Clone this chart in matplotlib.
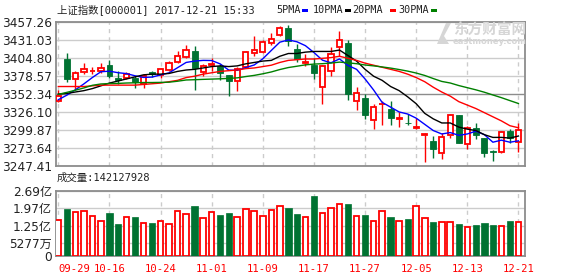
import matplotlib
matplotlib.use('Agg')
import matplotlib.pyplot as plt
import numpy as np

plt.rcParams['font.family'] = ['DejaVu Sans', 'Noto Sans CJK SC']

opens = [3341.5, 3403.5, 3374.5, 3383.4, 3385.0, 3385.9, 3394.1, 3375.0, 3375.2, 3375.2,
         3366.2, 3383.5, 3379.5, 3386.8, 3398.0, 3406.3, 3414.0, 3383.4, 3394.0, 3392.6,
         3379.5, 3371.3, 3391.7, 3411.1, 3412.6, 3425.7, 3437.8, 3447.5, 3417.4, 3396.6,
         3394.1, 3363.0, 3384.9, 3419.9, 3426.2, 3342.1, 3347.0, 3314.0, 3337.0, 3330.0,
         3316.4, 3310.5, 3302.8, 3292.1, 3283.4, 3266.7, 3292.1, 3321.3, 3280.0, 3303.3,
         3287.6, 3269.5, 3267.7, 3297.8, 3282.7]
highs = [3358.0, 3411.5, 3386.0, 3397.0, 3391.7, 3397.0, 3400.9, 3385.0, 3384.3, 3378.6,
         3380.5, 3386.0, 3390.2, 3399.9, 3415.0, 3423.3, 3422.3, 3395.5, 3404.0, 3395.5,
         3380.0, 3390.7, 3415.0, 3435.9, 3430.1, 3440.7, 3450.5, 3452.4, 3424.7, 3411.0,
         3403.8, 3394.1, 3419.9, 3443.2, 3430.1, 3361.6, 3351.9, 3337.3, 3342.0, 3342.1,
         3326.1, 3323.2, 3317.4, 3296.0, 3290.7, 3295.8, 3322.7, 3321.7, 3305.7, 3310.5,
         3287.6, 3270.0, 3298.3, 3300.8, 3310.5]
lows = [3340.5, 3369.0, 3359.0, 3381.0, 3381.0, 3382.0, 3374.7, 3366.5, 3373.8, 3361.4,
        3360.5, 3377.0, 3376.1, 3385.8, 3397.0, 3404.4, 3358.2, 3377.6, 3386.0, 3372.3,
        3349.4, 3356.7, 3390.7, 3407.7, 3411.1, 3423.7, 3436.9, 3421.3, 3398.0, 3393.0,
        3373.7, 3337.2, 3377.6, 3407.7, 3343.6, 3329.0, 3315.4, 3301.8, 3307.0, 3306.7,
        3304.7, 3306.7, 3301.3, 3253.9, 3259.2, 3258.3, 3288.5, 3280.5, 3272.7, 3286.1,
        3260.9, 3255.0, 3266.7, 3280.3, 3267.7]
closes = [3348.94, 3374.38, 3382.99, 3388.28, 3386.10, 3390.52, 3378.47, 3372.04, 3381.79, 3370.17,
          3378.65, 3380.70, 3388.25, 3396.90, 3407.57, 3416.81, 3390.34, 3393.34, 3395.91, 3383.31,
          3371.74, 3388.17, 3413.57, 3415.46, 3427.79, 3432.67, 3447.84, 3429.55, 3402.52, 3399.25,
          3382.91, 3392.40, 3410.50, 3430.46, 3351.92, 3353.82, 3322.23, 3333.66, 3337.86, 3317.19,
          3317.62, 3309.62, 3303.68, 3293.96, 3272.05, 3289.99, 3322.20, 3280.81, 3303.04, 3292.44,
          3266.14, 3267.92, 3296.54, 3287.61, 3300.06]

# moving averages as drawn on the chart
ma5 = [3343.8, 3350.4, 3358.2, 3366.8, 3376.1, 3384.5, 3385.3, 3383.1, 3381.8, 3378.6,
       3376.2, 3376.7, 3379.9, 3382.9, 3390.4, 3398.0, 3400.0, 3401.0, 3400.8, 3395.9,
       3386.9, 3386.5, 3390.5, 3394.4, 3403.3, 3415.5, 3427.5, 3430.7, 3428.1, 3422.4,
       3412.4, 3401.3, 3397.5, 3403.1, 3393.6, 3388, 3374, 3358, 3340, 3333,
       3326, 3323, 3317, 3308, 3299, 3294, 3296, 3292, 3294, 3298,
       3293, 3282, 3285, 3282, 3284]
ma10 = [3352, 3353, 3355, 3357, 3360, 3364, 3368, 3371, 3374, 3377,
        3380, 3381, 3381, 3382, 3385, 3387, 3388, 3390, 3392, 3393,
        3392, 3393, 3396, 3398, 3400, 3401, 3407, 3411, 3411, 3413,
        3414, 3414, 3414, 3416, 3408, 3400, 3388, 3378, 3372, 3363,
        3357, 3348, 3338, 3324, 3316, 3310, 3310, 3304, 3301, 3299,
        3293, 3289, 3289, 3288, 3291]
ma20 = [3363, 3363, 3363, 3363, 3364, 3365, 3365, 3365, 3365, 3365,
        3366, 3367, 3368, 3370, 3372, 3376, 3378, 3381, 3383, 3385,
        3386, 3387, 3389, 3390, 3392, 3394, 3398, 3401, 3402, 3403,
        3403, 3404, 3405, 3407, 3404, 3401, 3397, 3394, 3391, 3388,
        3385, 3381, 3376, 3370, 3362, 3355, 3349, 3341, 3336, 3331,
        3325, 3319, 3313, 3306, 3303]
ma30 = [3351.6, 3354.5, 3357.6, 3360.9, 3364.8, 3366.7, 3367.3, 3367.5, 3368.1, 3368.4,
        3368.8, 3368.8, 3369.0, 3369.3, 3370.7, 3372.5, 3372.9, 3373.4, 3373.8, 3374.2,
        3374.8, 3375.6, 3377.5, 3379.2, 3381.5, 3384.2, 3387.7, 3390.6, 3392.5, 3394.5,
        3395.6, 3396.2, 3397.1, 3398.5, 3397.4, 3396.2, 3394.3, 3393.0, 3391.5, 3389.8,
        3387.7, 3385.4, 3382.6, 3379.1, 3374.6, 3370.4, 3368.1, 3364.4, 3361.3, 3358.2,
        3354.7, 3350.7, 3346.8, 3342.5, 3338.3]

# volume in 亿
volumes = [1.476, 1.959, 1.821, 1.862, 1.655, 1.448, 1.780, 1.324, 1.614, 1.614,
           1.366, 1.366, 1.448, 1.324, 1.862, 1.738, 2.069, 1.573, 1.821, 1.697,
           1.780, 1.614, 1.945, 1.862, 1.655, 1.904, 2.069, 1.986, 1.738, 1.600,
           2.483, 1.766, 1.973, 2.138, 2.152, 1.642, 1.697, 1.435, 1.849, 1.614,
           1.435, 1.531, 2.055, 1.559, 1.407, 1.393, 1.393, 1.324, 1.200, 1.283,
           1.366, 1.283, 1.242, 1.448, 1.421]

date_idx = [0, 6, 12, 18, 24, 30, 36, 42, 48, 54]
date_labels = ['09-29', '10-16', '10-24', '11-01', '11-09', '11-17', '11-27', '12-05', '12-13', '12-21']
price_ticks = [3247.41, 3273.64, 3299.87, 3326.10, 3352.34, 3378.57, 3404.80, 3431.03, 3457.26]
vol_ticks = [0, 0.5277, 1.25, 1.97, 2.69]
vol_tick_labels = ['0', '5277万', '1.25亿', '1.97亿', '2.69亿']

RED = '#ff0000'
GREEN = '#007232'
GRID = '#cccccc'
BORDER = '#8c8c8c'
W, H = 578, 276

fig = plt.figure(figsize=(W / 100, H / 100), dpi=100)
ax = fig.add_axes([56 / W, 1 - 166 / H, 469 / W, 144.3 / H])
axv = fig.add_axes([56 / W, 1 - 256 / H, 469 / W, 65 / H])

x = np.arange(len(closes))
o = np.array(opens)
c = np.array(closes)
h = np.array(highs)
l = np.array(lows)
up = c >= o

# grid
for a in (ax, axv):
    for i in date_idx:
        a.axvline(i, color=GRID, lw=1, ls=(0, (3, 3)), zorder=0)
for t in price_ticks:
    ax.axhline(t, color=BORDER if t == 3352.34 else GRID, lw=1, zorder=0)
for t in vol_ticks:
    axv.axhline(t, color=GRID, lw=1, zorder=0)

# wicks (not drawn through hollow bodies)
top = np.maximum(o, c)
bot = np.minimum(o, c)
ax.vlines(x[up], top[up], h[up], color=RED, lw=1, zorder=2)
ax.vlines(x[up], l[up], bot[up], color=RED, lw=1, zorder=2)
ax.vlines(x[~up], l[~up], h[~up], color=GREEN, lw=1, zorder=2)
# bodies
ax.bar(x[up], np.maximum(c[up] - o[up], 0.4), bottom=o[up], width=0.62,
       facecolor='white', edgecolor=RED, linewidth=1.3, zorder=3)
ax.bar(x[~up], o[~up] - c[~up], bottom=c[~up], width=0.68,
       facecolor=GREEN, edgecolor=GREEN, linewidth=0.6, zorder=3)

for ma, col in ((ma5, '#0000ff'), (ma10, '#000000'), (ma20, '#ff0000'), (ma30, '#008000')):
    ax.plot(x, ma, color=col, lw=1, zorder=4)

vol = np.array(volumes)
axv.bar(x[up], vol[up], width=0.66, facecolor='white', edgecolor=RED, linewidth=1.3, zorder=3)
axv.bar(x[~up], vol[~up], width=0.74, facecolor=GREEN, edgecolor=GREEN, linewidth=0.5, zorder=3)

for a in (ax, axv):
    a.set_xlim(-0.27, 54.77)
    for s in a.spines.values():
        s.set_color(BORDER)
        s.set_linewidth(1.3)
    a.tick_params(length=0, labelsize=8.7, labelcolor='#222222', pad=3)

ax.set_ylim(price_ticks[0], price_ticks[-1])
ax.set_yticks(price_ticks)
ax.set_yticklabels(['%.2f' % t for t in price_ticks])
ax.set_xticks([])

axv.set_ylim(0, 2.69)
axv.set_yticks(vol_ticks)
axv.set_yticklabels(vol_tick_labels)
axv.set_xticks(date_idx)
axv.set_xticklabels(date_labels, family='DejaVu Sans Mono', fontsize=7.6, color=RED)
axv.tick_params(axis='x', pad=6, labelcolor=RED)
axv.get_xticklabels()[0].set_ha('left')

mono = ['DejaVu Sans Mono', 'Noto Sans CJK SC']


def ftext(px, py, s, **kw):
    fig.text(px / W, 1 - py / H, s, va='center', ha='left', **kw)


ftext(57, 10, '上证指数[000001] 2017-12-21 15:33', family=mono, fontsize=7.5, color='#222222')
legend = [(276, 302, '5PMA', '#0000ff'), (313, 345, '10PMA', '#000000'),
          (352, 390, '20PMA', '#ff0000'), (398, 431, '30PMA', '#008000')]
for px0, dx, lab, col in legend:
    ftext(px0, 10, lab, family=mono, fontsize=7.3, color='#222222')
    fig.add_artist(plt.Rectangle((dx / W, 1 - 11.5 / H), 6 / W, 2.5 / H,
                                 transform=fig.transFigure, color=col, lw=0))
ftext(57, 178, '成交量:142127928', family=mono, fontsize=7.5, color='#222222')

# watermark
fig.add_artist(plt.Polygon([(437 / W, 1 - 44 / H), (446 / W, 1 - 23 / H), (451 / W, 1 - 23 / H),
                            (444 / W, 1 - 36 / H), (449 / W, 1 - 44 / H)],
                           closed=True, transform=fig.transFigure, color='#d6d6d6', lw=0))
ftext(453, 30, '东方财富网', family=['Noto Sans CJK SC'], fontsize=10.5,
      fontweight='bold', color='#d6d6d6')
ftext(453, 41.5, 'eastmoney.com', family=['DejaVu Sans'], fontsize=6,
      fontweight='bold', color='#d6d6d6')

fig.savefig('out.png', dpi=100)
